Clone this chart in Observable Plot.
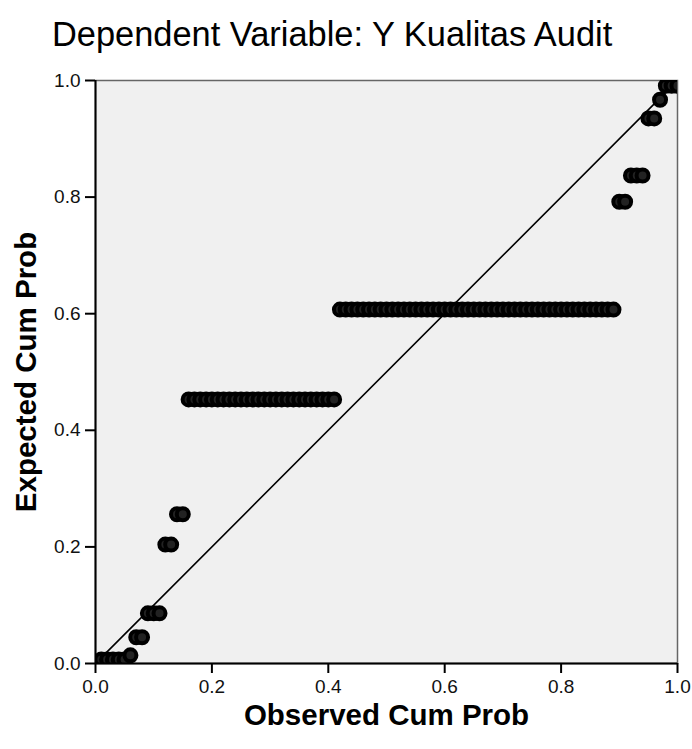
<!DOCTYPE html>
<html>
<head>
<meta charset="utf-8">
<script src="https://cdn.jsdelivr.net/npm/d3@7"></script>
<script src="https://cdn.jsdelivr.net/npm/@observablehq/plot@0.6"></script>
<style>
  body { margin: 0; background: #fff; font-family: "Liberation Sans", Arial, sans-serif; }
  #wrap { width: 692px; }
  #title { position: relative; height: 62px; }
  #title span { position: absolute; left: 52px; top: 17px; font-size: 34.4px; line-height: 34px; color: #000; white-space: nowrap; }
</style>
</head>
<body>
<div id="wrap">
  <div id="title"><span>Dependent Variable: Y Kualitas Audit</span></div>
  <div id="chart"></div>
</div>
<script>
// Expected cumulative probability levels (one per distinct residual value)
const expectedLevels = [0.007, 0.014, 0.045, 0.086, 0.204, 0.256, 0.453, 0.607, 0.792, 0.837, 0.935, 0.967, 0.991];

// Observed cumulative probabilities of the cases at each level
const observedByLevel = [
  [0.01, 0.02, 0.03, 0.04, 0.05],
  [0.06],
  [0.07, 0.08],
  [0.09, 0.10, 0.11],
  [0.12, 0.13],
  [0.14, 0.15],
  [0.16, 0.17, 0.18, 0.19, 0.20, 0.21, 0.22, 0.23, 0.24, 0.25, 0.26, 0.27, 0.28,
   0.29, 0.30, 0.31, 0.32, 0.33, 0.34, 0.35, 0.36, 0.37, 0.38, 0.39, 0.40, 0.41],
  [0.42, 0.43, 0.44, 0.45, 0.46, 0.47, 0.48, 0.49, 0.50, 0.51, 0.52, 0.53, 0.54, 0.55, 0.56, 0.57,
   0.58, 0.59, 0.60, 0.61, 0.62, 0.63, 0.64, 0.65, 0.66, 0.67, 0.68, 0.69, 0.70, 0.71, 0.72, 0.73,
   0.74, 0.75, 0.76, 0.77, 0.78, 0.79, 0.80, 0.81, 0.82, 0.83, 0.84, 0.85, 0.86, 0.87, 0.88, 0.89],
  [0.90, 0.91],
  [0.92, 0.93, 0.94],
  [0.95, 0.96],
  [0.97],
  [0.98, 0.99, 1.00]
];

const ticks = [0, 0.2, 0.4, 0.6, 0.8, 1.0];
const diagonal = [0, 1];
const xLabel = "Observed Cum Prob";
const yLabel = "Expected Cum Prob";

const points = observedByLevel.flatMap((obs, i) => obs.map(o => ({observed: o, expected: expectedLevels[i]})));

const font = "Liberation Sans, Arial, sans-serif";
const fmt = d3.format(".1f");

const chart = Plot.plot({
  width: 692,
  height: 687,
  marginTop: 18,
  marginBottom: 86,
  marginLeft: 95,
  marginRight: 15,
  style: { fontFamily: font, fontSize: "19px", color: "#000", background: "#fff", overflow: "visible" },
  x: { domain: [0, 1], ticks: ticks, label: null, axis: null },
  y: { domain: [0, 1], ticks: ticks, label: null, axis: null },
  marks: [
    Plot.frame({ fill: "#f0f0f0", stroke: "#666", strokeWidth: 1.5 }),
    Plot.line(diagonal, { x: d => d, y: d => d, stroke: "#000", strokeWidth: 1.6, clip: true }),
    Plot.dot(points, { x: "observed", y: "expected", r: 6, stroke: "#000", strokeWidth: 4, fill: "#222", clip: true }),
    Plot.ruleX([0], { stroke: "#000", strokeWidth: 2 }),
    Plot.ruleY([0], { stroke: "#000", strokeWidth: 2 }),
    // tick marks
    Plot.axisX({ ticks: ticks, tickSize: 10, tickFormat: () => "", strokeWidth: 2, label: null }),
    Plot.axisY({ ticks: ticks, tickSize: 10, tickFormat: () => "", strokeWidth: 2, label: null }),
    // tick labels
    Plot.text(ticks, { x: d => d, text: d => fmt(d), frameAnchor: "bottom", lineAnchor: "top", textAnchor: "middle", dy: 16, fontSize: 19, fill: "#111" }),
    Plot.text(ticks, { y: d => d, text: d => fmt(d), frameAnchor: "left", textAnchor: "end", lineAnchor: "middle", dx: -15, fontSize: 19, fill: "#111" }),
    // axis titles
    Plot.text([xLabel], { text: d => d, frameAnchor: "bottom", textAnchor: "middle", lineAnchor: "middle", dy: 52, fontSize: 29.5, fontWeight: "bold", fill: "#000" }),
    Plot.text([yLabel], { text: d => d, frameAnchor: "left", textAnchor: "middle", lineAnchor: "middle", dx: -69, rotate: -90, fontSize: 29.5, fontWeight: "bold", fill: "#000" })
  ]
});
document.getElementById("chart").appendChild(chart);
</script>
</body>
</html>
